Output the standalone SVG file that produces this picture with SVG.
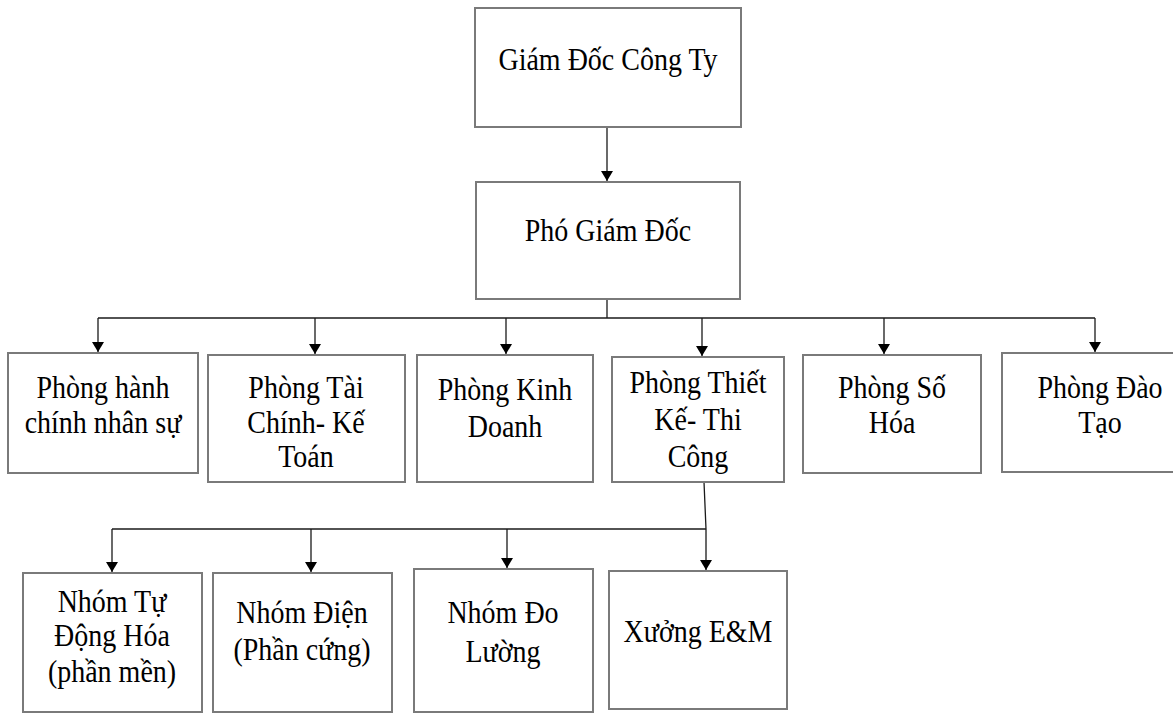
<svg xmlns="http://www.w3.org/2000/svg" width="1173" height="713" viewBox="0 0 1173 713">
  <defs>
    <marker id="arrow" markerUnits="userSpaceOnUse" markerWidth="12" markerHeight="14" refX="10" refY="6" orient="auto">
      <path d="M0,0 L10,6 L0,12 Z" fill="#000"/>
    </marker>
    <style>
      .box { fill: #fff; stroke: #7a7a7a; stroke-width: 2; }
      .lbl { font-family: "Liberation Serif", "Times New Roman", serif; font-size: 28px; fill: #000; text-anchor: middle; }
      .wire { fill: none; stroke: #1a1a1a; stroke-width: 1.3; }
    </style>
  </defs>
  <rect width="1173" height="713" fill="#fff"/>

  <!-- connectors -->
  <g id="connectors">
    <path class="wire" d="M607,127 V181" marker-end="url(#arrow)"/>
    <path class="wire" d="M607,299 V318"/>
    <path class="wire" d="M98,318 H1095"/>
    <path class="wire" d="M98,318 V352" marker-end="url(#arrow)"/>
    <path class="wire" d="M315,318 V354" marker-end="url(#arrow)"/>
    <path class="wire" d="M506,318 V354" marker-end="url(#arrow)"/>
    <path class="wire" d="M702,318 V356" marker-end="url(#arrow)"/>
    <path class="wire" d="M884,318 V354" marker-end="url(#arrow)"/>
    <path class="wire" d="M1095,318 V352" marker-end="url(#arrow)"/>
    <path class="wire" d="M704,482 L706,529 V570" marker-end="url(#arrow)"/>
    <path class="wire" d="M112,529 H706"/>
    <path class="wire" d="M112,529 V572" marker-end="url(#arrow)"/>
    <path class="wire" d="M311,529 V572" marker-end="url(#arrow)"/>
    <path class="wire" d="M507,529 V568" marker-end="url(#arrow)"/>
  </g>

  <g id="giam-doc">
    <rect class="box" x="475" y="8" width="266" height="119"/>
    <text class="lbl" transform="translate(608,70) scale(1,1.12)"><tspan x="0" y="0">Giám Đốc Công Ty</tspan></text>
  </g>

  <g id="pho-giam-doc">
    <rect class="box" x="476" y="182" width="264" height="117"/>
    <text class="lbl" transform="translate(608,241) scale(1,1.12)"><tspan x="0" y="0">Phó Giám Đốc</tspan></text>
  </g>

  <g id="hanh-chinh">
    <rect class="box" x="8" y="353" width="190" height="120"/>
    <text class="lbl" transform="translate(103,398) scale(1,1.12)"><tspan x="0" y="0">Phòng hành</tspan><tspan x="0" y="31.3">chính nhân sự</tspan></text>
  </g>

  <g id="tai-chinh">
    <rect class="box" x="208" y="355" width="197" height="127"/>
    <text class="lbl" transform="translate(306,398) scale(1,1.12)"><tspan x="0" y="0">Phòng Tài</tspan><tspan x="0" y="31.3">Chính- Kế</tspan><tspan x="0" y="61.6">Toán</tspan></text>
  </g>

  <g id="kinh-doanh">
    <rect class="box" x="417" y="355" width="176" height="127"/>
    <text class="lbl" transform="translate(505,400) scale(1,1.12)"><tspan x="0" y="0">Phòng Kinh</tspan><tspan x="0" y="32.6">Doanh</tspan></text>
  </g>

  <g id="thiet-ke">
    <rect class="box" x="612" y="357" width="172" height="125"/>
    <text class="lbl" transform="translate(698,393) scale(1,1.12)"><tspan x="0" y="0">Phòng Thiết</tspan><tspan x="0" y="33">Kế- Thi</tspan><tspan x="0" y="66">Công</tspan></text>
  </g>

  <g id="so-hoa">
    <rect class="box" x="803" y="355" width="178" height="118"/>
    <text class="lbl" transform="translate(892,398) scale(1,1.12)"><tspan x="0" y="0">Phòng Số</tspan><tspan x="0" y="31.3">Hóa</tspan></text>
  </g>

  <g id="dao-tao">
    <rect class="box" x="1002" y="353" width="180" height="119"/>
    <text class="lbl" transform="translate(1100,398) scale(1,1.12)"><tspan x="0" y="0">Phòng Đào</tspan><tspan x="0" y="31.3">Tạo</tspan></text>
  </g>

  <g id="tu-dong-hoa">
    <rect class="box" x="23" y="573" width="179" height="139"/>
    <text class="lbl" transform="translate(112,612) scale(1,1.12)"><tspan x="0" y="0">Nhóm Tự</tspan><tspan x="0" y="30.4">Động Hóa</tspan><tspan x="0" y="62.5">(phần mền)</tspan></text>
  </g>

  <g id="nhom-dien">
    <rect class="box" x="213" y="573" width="179" height="139"/>
    <text class="lbl" transform="translate(302,623) scale(1,1.12)"><tspan x="0" y="0">Nhóm Điện</tspan><tspan x="0" y="33">(Phần cứng)</tspan></text>
  </g>

  <g id="do-luong">
    <rect class="box" x="414" y="569" width="179" height="143"/>
    <text class="lbl" transform="translate(503,623) scale(1,1.12)"><tspan x="0" y="0">Nhóm Đo</tspan><tspan x="0" y="34.8">Lường</tspan></text>
  </g>

  <g id="xuong-em">
    <rect class="box" x="609" y="571" width="178" height="138"/>
    <text class="lbl" transform="translate(698,642) scale(1,1.12)"><tspan x="0" y="0">Xưởng E&amp;M</tspan></text>
  </g>
</svg>
